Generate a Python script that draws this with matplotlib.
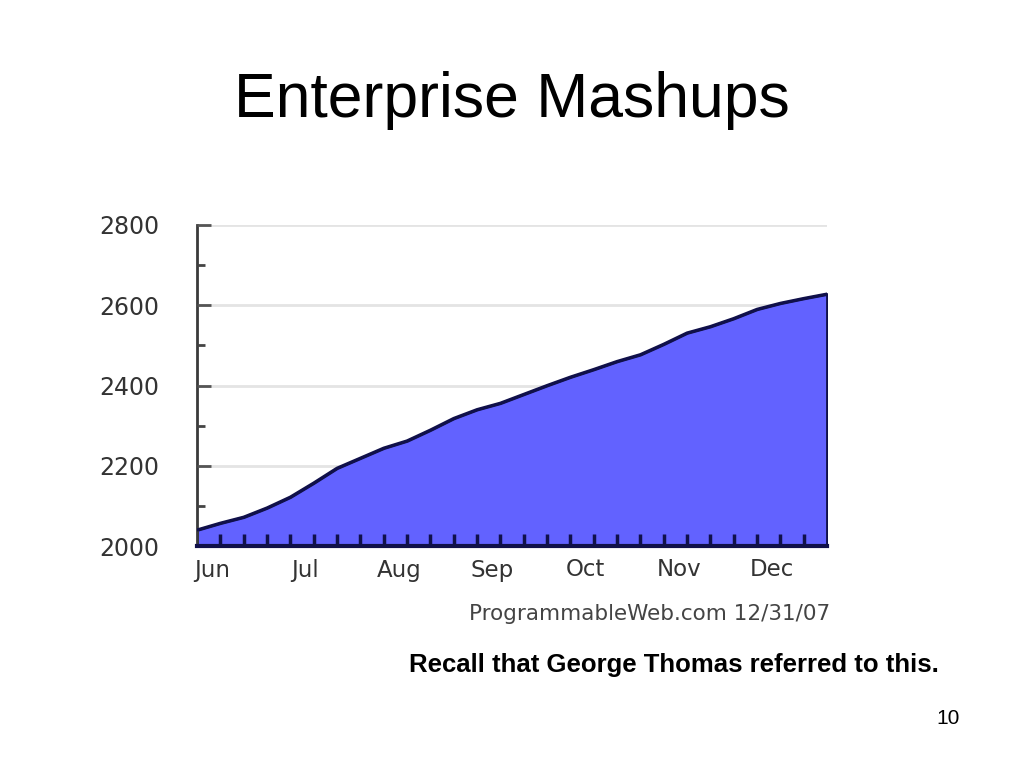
import matplotlib
matplotlib.use("Agg")
import matplotlib.pyplot as plt

# weekly samples (x in weeks, axis starts one week before first tick)
weeks = [-1, 0, 1, 2, 3, 4, 5, 6, 7, 8, 9, 10, 11, 12, 13, 14, 15, 16, 17,
         18, 19, 20, 21, 22, 23, 24, 25, 26]
mashups = [2040, 2057, 2072, 2095, 2122, 2157, 2194, 2219, 2244, 2262, 2289,
           2318, 2340, 2356, 2378, 2400, 2421, 2440, 2460, 2477, 2503, 2531,
           2547, 2567, 2590, 2605, 2617, 2628]
months = ["Jun", "Jul", "Aug", "Sep", "Oct", "Nov", "Dec"]
month_pos = [-0.35, 3.65, 7.65, 11.65, 15.65, 19.65, 23.65]
week_ticks = list(range(0, 26))
y_major = [2000, 2200, 2400, 2600, 2800]
y_minor = [2100, 2300, 2500, 2700]

fill_color = "#6262FF"
line_color = "#10104A"

fig = plt.figure(figsize=(10.24, 7.68), dpi=100)
fig.patch.set_facecolor("white")

ax = fig.add_axes([197 / 1024, 1 - 546 / 768, 630 / 1024, 321 / 768])
ax.set_xlim(-1, 26)
ax.set_ylim(2000, 2800)
ax.set_axisbelow(False)

for yv in y_major[1:]:
    ax.axhline(yv, color="#e4e4e4", linewidth=2, zorder=0)

ax.fill_between(weeks, mashups, 2000, facecolor=fill_color,
                edgecolor=line_color, linewidth=2, zorder=2)
ax.plot(weeks, mashups, color=line_color, linewidth=2.2, zorder=3)

ax.spines["top"].set_visible(False)
ax.spines["right"].set_visible(False)
ax.spines["left"].set_color("#3a3a3a")
ax.spines["left"].set_linewidth(2)
ax.spines["bottom"].set_color(line_color)
ax.spines["bottom"].set_linewidth(3)
ax.spines["bottom"].set_zorder(4)

ax.set_yticks(y_major)
ax.set_yticks(y_minor, minor=True)
ax.set_yticklabels([str(v) for v in y_major])
ax.tick_params(axis="y", which="major", direction="in", length=10, width=2,
               color="#555555", pad=27, labelsize=17, labelcolor="#333333")
ax.tick_params(axis="y", which="minor", direction="in", length=6, width=2,
               color="#444444")

ax.set_xticks(month_pos)
ax.set_xticklabels(months)
ax.set_xticks(week_ticks, minor=True)
ax.tick_params(axis="x", which="major", length=0, pad=9, labelsize=16.5,
               labelcolor="#333333")
ax.tick_params(axis="x", which="minor", direction="in", length=9, width=2.5,
               color=line_color)

fig.text(0.5, 1 - 100 / 768, "Enterprise Mashups", ha="center", va="center",
         fontsize=45, family="Liberation Sans", color="black")
fig.text(830 / 1024, 1 - 614 / 768, "ProgrammableWeb.com 12/31/07",
         ha="right", va="center", fontsize=15.5, color="#444444")
fig.text(674 / 1024, 1 - 665 / 768, "Recall that George Thomas referred to this.",
         ha="center", va="center", fontsize=18.5, fontweight="bold",
         family="Liberation Sans", color="black")
fig.text(960 / 1024, 1 - 718 / 768, "10", ha="right", va="center",
         fontsize=15, family="Liberation Sans", color="black")

fig.savefig("out.png", dpi=100)
